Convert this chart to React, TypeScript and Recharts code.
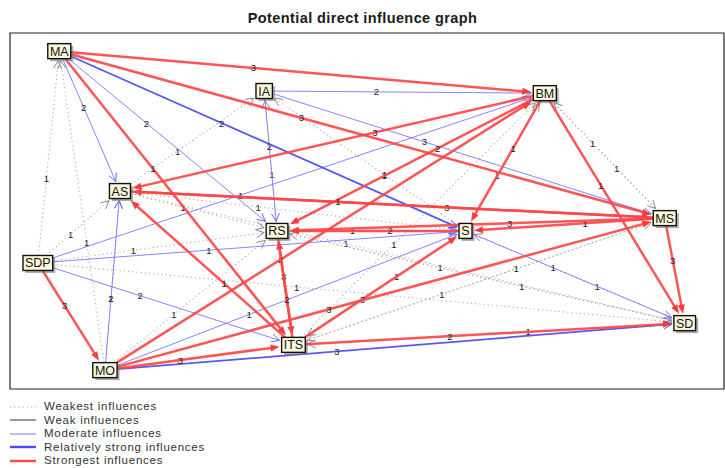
import React from "react";
import { ScatterChart, Scatter, XAxis, YAxis, ReferenceLine, ReferenceArea } from "recharts";

// node layout (0-100 units inside the frame)
const nodeNames = ["MA", "IA", "BM", "AS", "RS", "S", "MS", "SDP", "ITS", "MO", "SD"];
const nodeX = [6.9, 35.6, 74.9, 15.4, 37.4, 63.8, 91.7, 3.9, 39.7, 13.3, 94.5];
const nodeY = [94.9, 83.7, 83.1, 55.6, 44.4, 44.4, 48.0, 35.4, 12.4, 5.3, 18.5];

type Edge = [string, string, number];

const strongestEdges: Edge[] = [
  ["MA", "BM", 3], ["MA", "MS", 3], ["MA", "ITS", 1],
  ["BM", "AS", 3], ["BM", "RS", 2], ["BM", "S", 1], ["BM", "SD", 1],
  ["MO", "BM", 2], ["MS", "AS", 3], ["AS", "MS", 1], ["MS", "S", 1],
  ["S", "RS", 2], ["MS", "RS", 3], ["ITS", "AS", 1], ["RS", "ITS", 3],
  ["ITS", "RS", 2], ["ITS", "S", 3], ["MO", "MS", 3], ["MO", "ITS", 3],
  ["ITS", "SD", 2], ["SDP", "MO", 3], ["MS", "SD", 3],
];
const relStrongEdges: Edge[] = [["MA", "S", 2], ["MO", "SD", 3]];
const moderateEdges: Edge[] = [
  ["MA", "AS", 2], ["MA", "RS", 2], ["IA", "RS", 2], ["IA", "BM", 2],
  ["IA", "MS", 3], ["SDP", "BM", 1], ["SDP", "S", 1], ["SDP", "ITS", 2],
  ["MO", "AS", 2], ["MO", "S", 1], ["S", "SD", 1], ["RS", "S", 1],
];
const weakEdges: Edge[] = [];
const weakestEdges: Edge[] = [
  ["SDP", "MA", 1], ["MO", "MA", 1], ["SDP", "AS", 1], ["MO", "AS", 1],
  ["AS", "IA", 1], ["RS", "IA", 1], ["S", "IA", 1], ["RS", "BM", 1],
  ["S", "BM", 1], ["ITS", "BM", 1], ["MS", "BM", 1], ["BM", "MS", 1],
  ["AS", "RS", 1], ["SDP", "RS", 1], ["MO", "RS", 1], ["AS", "S", 1],
  ["SD", "S", 1], ["RS", "SD", 1], ["AS", "SD", 1], ["SDP", "SD", 1],
  ["ITS", "MS", 1], ["SD", "ITS", 1], ["S", "ITS", 1], ["MS", "ITS", 1],
  ["SD", "RS", 1],
];

const legendLabels = [
  "Weakest influences",
  "Weak influences",
  "Moderate influences",
  "Relatively strong influences",
  "Strongest influences",
];

const FONT = "'Liberation Sans', Arial, sans-serif";

type LevelStyle = { stroke: string; width: number; dash?: string; head: string; fill: boolean };
const styles: LevelStyle[] = [
  { stroke: "#a8a8a8", width: 1.1, dash: "1.2 3", head: "#8a8a8a", fill: false },
  { stroke: "#333333", width: 1, head: "#333333", fill: false },
  { stroke: "#7b7bff", width: 1, head: "#6a6aff", fill: false },
  { stroke: "#4a4af5", width: 1.8, head: "#4a4af5", fill: false },
  { stroke: "#ff4747", width: 2.5, head: "#ff3b3b", fill: true },
];

const charW: Record<string, number> = { M: 10, A: 8, I: 3.4, B: 8, S: 8, R: 8.7, D: 8.7, P: 8, T: 7.3, O: 9.3 };
const boxSize = (name: string) => {
  const w = name.split("").reduce((s, c) => s + (charW[c] || 8), 0) + 5;
  return [w, 15];
};

const nodes = nodeNames.map((name, i) => ({ name, x: nodeX[i], y: nodeY[i] }));
const pos = (name: string) => nodes.find((n) => n.name === name)!;

function EdgeShape(props: any) {
  const { x1, y1, x2, y2, edge, level } = props;
  const st = styles[level];
  const [from, to, label] = edge as Edge;
  const dx = x2 - x1, dy = y2 - y1;
  const len = Math.hypot(dx, dy) || 1;
  const ux = dx / len, uy = dy / len;
  const [fw, fh] = boxSize(from);
  const [tw, th] = boxSize(to);
  const s0 = Math.min((fw / 2) / Math.max(Math.abs(dx), 1e-6), (fh / 2) / Math.max(Math.abs(dy), 1e-6));
  const s1 = Math.min((tw / 2 + 2) / Math.max(Math.abs(dx), 1e-6), (th / 2 + 2) / Math.max(Math.abs(dy), 1e-6));
  const sx = x1 + dx * s0, sy = y1 + dy * s0;
  const ex = x2 - dx * s1, ey = y2 - dy * s1;
  const hl = st.fill ? 9 : 8, hw = st.fill ? 3.5 : 4;
  const bx = ex - ux * hl, by = ey - uy * hl;
  const p1 = `${bx + uy * hw},${by - ux * hw}`;
  const p2 = `${bx - uy * hw},${by + ux * hw}`;
  const lx = x1 + dx * 0.4, ly = y1 + dy * 0.4;
  return (
    <g>
      <line x1={sx} y1={sy} x2={st.fill ? bx + ux * 2 : ex} y2={st.fill ? by + uy * 2 : ey}
        stroke={st.stroke} strokeWidth={st.width} strokeDasharray={st.dash} strokeOpacity={0.92} />
      {st.fill ? (
        <polygon points={`${ex},${ey} ${p1} ${p2}`} fill={st.head} />
      ) : (
        <polyline points={`${p1} ${ex},${ey} ${p2}`} fill="none" stroke={st.head} strokeWidth={1} />
      )}
      <text x={lx} y={ly} fontSize={9.5} fill="#222" textAnchor="middle" dominantBaseline="central" fontFamily={FONT}>
        {label}
      </text>
    </g>
  );
}

function NodeShape(props: any) {
  const { cx, cy, payload } = props;
  const [w, h] = boxSize(payload.name);
  return (
    <g>
      <rect x={cx - w / 2 + 2.5} y={cy - h / 2 + 2.5} width={w} height={h} fill="#777" opacity={0.6} />
      <rect x={cx - w / 2} y={cy - h / 2} width={w} height={h} fill="#fcfadc" stroke="#111" strokeWidth={1.4} />
      <text x={cx} y={cy + 0.5} fontSize={12.5} fill="#111" textAnchor="middle" dominantBaseline="central" fontFamily={FONT}>
        {payload.name}
      </text>
    </g>
  );
}

const edgeGroups: [Edge[], number][] = [
  [weakestEdges, 0], [weakEdges, 1], [moderateEdges, 2], [relStrongEdges, 3], [strongestEdges, 4],
];

export default function App() {
  return (
    <div style={{ position: "absolute", left: 0, top: 0, width: 725, height: 468, background: "#fff", fontFamily: FONT }}>
      <div style={{ position: "absolute", top: 10, width: 725, textAlign: "center", fontWeight: "bold", fontSize: 14.5, letterSpacing: 0.4, color: "#1a1a1a" }}>
        Potential direct influence graph
      </div>
      <ScatterChart width={725} height={392} margin={{ top: 33, right: 1, bottom: 3, left: 10 }}>
        <XAxis type="number" dataKey="x" domain={[0, 100]} hide />
        <YAxis type="number" dataKey="y" domain={[0, 100]} hide width={0} />
        <ReferenceArea x1={0} x2={100} y1={0} y2={100} fill="none" stroke="#222" strokeWidth={1.2} fillOpacity={0} ifOverflow="visible" />
        {edgeGroups.flatMap(([list, level]) =>
          list.map((e, i) => {
            const a = pos(e[0]), b = pos(e[1]);
            return (
              <ReferenceLine
                key={`${level}-${i}`}
                segment={[{ x: a.x, y: a.y }, { x: b.x, y: b.y }]}
                ifOverflow="visible"
                shape={(p: any) => <EdgeShape {...p} edge={e} level={level} />}
              />
            );
          })
        )}
        <Scatter data={nodes} isAnimationActive={false} shape={(p: any) => <NodeShape {...p} />} />
      </ScatterChart>
      <div style={{ position: "absolute", left: 10, top: 400, fontSize: 11.5, lineHeight: "13.5px", letterSpacing: 0.75, color: "#333" }}>
        {legendLabels.map((t, i) => (
          <div key={t} style={{ display: "flex", alignItems: "center", height: 13.5 }}>
            <svg width={34} height={10}>
              <line x1={0} y1={5} x2={26} y2={5} stroke={styles[i].stroke} strokeWidth={i >= 3 ? 2.4 : 1} strokeDasharray={styles[i].dash} />
            </svg>
            <span>{t}</span>
          </div>
        ))}
      </div>
    </div>
  );
}
